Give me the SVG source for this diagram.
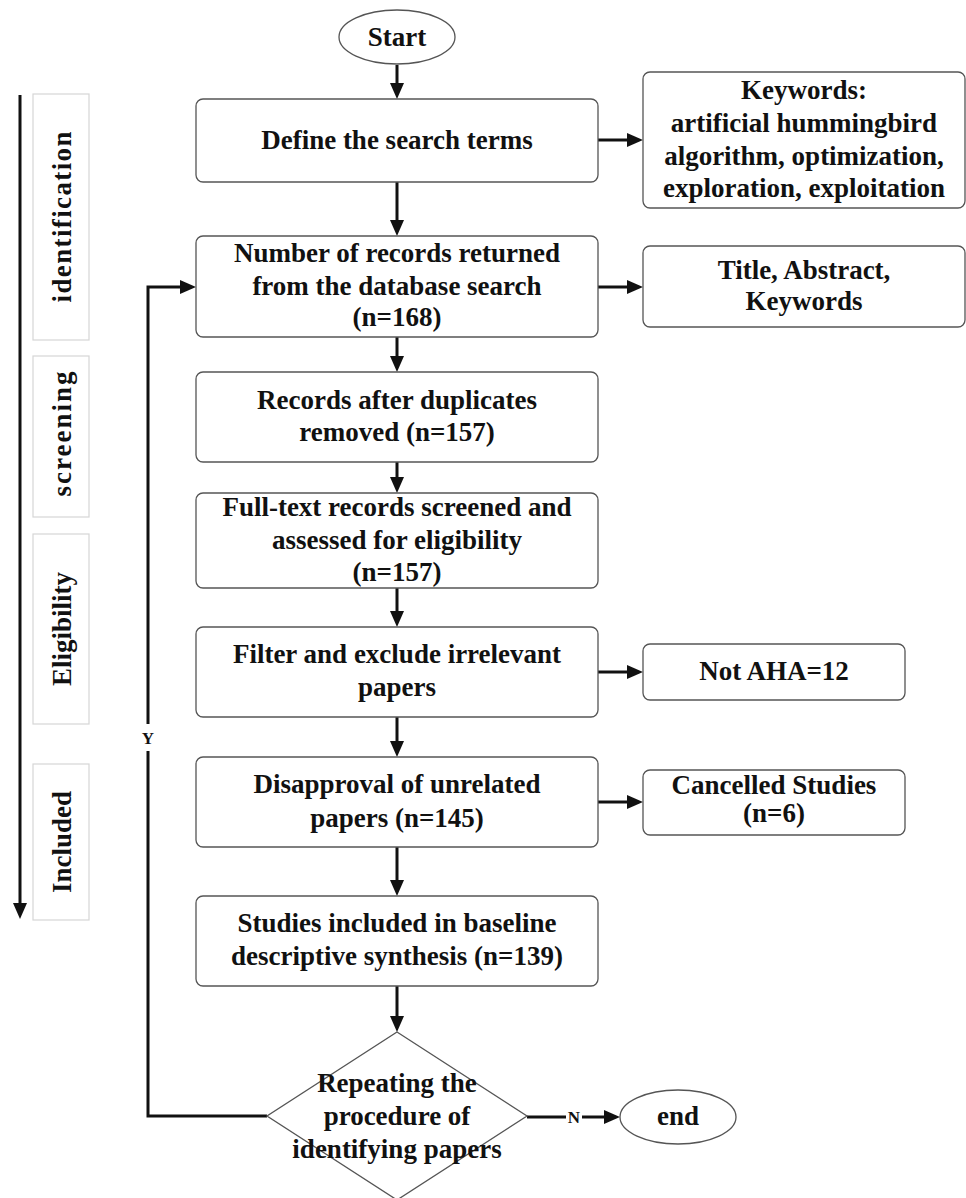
<svg xmlns="http://www.w3.org/2000/svg" width="966" height="1198" viewBox="0 0 966 1198">
<defs>
<style>
.box{fill:#fff;stroke:#555;stroke-width:1.3}
.stage{fill:#fff;stroke:#d6d6d6;stroke-width:1.2}
.t{font-family:"Liberation Serif","Times New Roman",serif;font-weight:bold;font-size:27px;fill:#111;text-anchor:middle}
.s{font-family:"Liberation Serif","Times New Roman",serif;font-weight:bold;font-size:17px;fill:#111;text-anchor:middle}
.c{fill:none;stroke:#111;stroke-width:3}
</style>
<marker id="ah" viewBox="0 0 16 14" refX="0" refY="7" markerWidth="16" markerHeight="14" markerUnits="userSpaceOnUse" orient="auto">
<path d="M0,0 L16,7 L0,14 z" fill="#111"/>
</marker>
</defs>
<rect width="966" height="1198" fill="#fff"/>

<g id="stages">
<rect class="stage" x="33" y="94" width="56" height="246"/>
<text class="t" transform="translate(71,217) rotate(-90)" textLength="171" lengthAdjust="spacing">identification</text>
<rect class="stage" x="33" y="356" width="56" height="161"/>
<text class="t" transform="translate(71,434) rotate(-90)" textLength="125" lengthAdjust="spacing">screening</text>
<rect class="stage" x="33" y="534" width="56" height="190"/>
<text class="t" transform="translate(71,629) rotate(-90)">Eligibility</text>
<rect class="stage" x="33" y="764" width="56" height="156"/>
<text class="t" transform="translate(71,842) rotate(-90)">Included</text>
</g>

<g id="connectors">
<path class="c" d="M20,95 V903" marker-end="url(#ah)"/>
<path class="c" d="M397,65 V83" marker-end="url(#ah)"/>
<path class="c" d="M397,182 V220" marker-end="url(#ah)"/>
<path class="c" d="M397,337 V356" marker-end="url(#ah)"/>
<path class="c" d="M397,462 V477" marker-end="url(#ah)"/>
<path class="c" d="M397,588 V611" marker-end="url(#ah)"/>
<path class="c" d="M397,717 V741" marker-end="url(#ah)"/>
<path class="c" d="M397,847 V880" marker-end="url(#ah)"/>
<path class="c" d="M397,986 V1016" marker-end="url(#ah)"/>
<path class="c" d="M598,140 H627" marker-end="url(#ah)"/>
<path class="c" d="M598,287 H627" marker-end="url(#ah)"/>
<path class="c" d="M598,672 H627" marker-end="url(#ah)"/>
<path class="c" d="M598,802 H627" marker-end="url(#ah)"/>
<path class="c" d="M267,1116 H148 V751"/>
<path class="c" d="M148,724 V287 H180" marker-end="url(#ah)"/>
<text class="s" x="148" y="744">Y</text>
<path class="c" d="M527,1117 H566"/>
<path class="c" d="M582,1117 H604" marker-end="url(#ah)"/>
<text class="s" x="574" y="1123">N</text>
</g>

<g id="start">
<ellipse class="box" cx="397" cy="37" rx="58" ry="27"/>
<text class="t" x="397" y="46">Start</text>
</g>

<g id="define">
<rect class="box" x="196" y="99" width="402" height="83" rx="7"/>
<text class="t" x="397" y="149">Define the search terms</text>
</g>

<g id="keywords">
<rect class="box" x="643" y="72" width="322" height="136" rx="7"/>
<text class="t" x="804" y="99">Keywords:</text>
<text class="t" x="804" y="132">artificial hummingbird</text>
<text class="t" x="804" y="165">algorithm, optimization,</text>
<text class="t" x="804" y="197">exploration, exploitation</text>
</g>

<g id="records">
<rect class="box" x="196" y="236" width="402" height="101" rx="7"/>
<text class="t" x="397" y="262">Number of records returned</text>
<text class="t" x="397" y="295">from the database search</text>
<text class="t" x="397" y="326">(n=168)</text>
</g>

<g id="title">
<rect class="box" x="643" y="246" width="322" height="81" rx="7"/>
<text class="t" x="804" y="279">Title, Abstract,</text>
<text class="t" x="804" y="310">Keywords</text>
</g>

<g id="duplicates">
<rect class="box" x="196" y="372" width="402" height="90" rx="7"/>
<text class="t" x="397" y="409">Records after duplicates</text>
<text class="t" x="397" y="441">removed (n=157)</text>
</g>

<g id="fulltext">
<rect class="box" x="196" y="493" width="402" height="95" rx="7"/>
<text class="t" x="397" y="516">Full-text records screened and</text>
<text class="t" x="397" y="549">assessed for eligibility</text>
<text class="t" x="397" y="581">(n=157)</text>
</g>

<g id="filter">
<rect class="box" x="196" y="627" width="402" height="90" rx="7"/>
<text class="t" x="397" y="663">Filter and exclude irrelevant</text>
<text class="t" x="397" y="696">papers</text>
</g>

<g id="notaha">
<rect class="box" x="643" y="644" width="262" height="56" rx="7"/>
<text class="t" x="774" y="680">Not AHA=12</text>
</g>

<g id="disapproval">
<rect class="box" x="196" y="757" width="402" height="90" rx="7"/>
<text class="t" x="397" y="793">Disapproval of unrelated</text>
<text class="t" x="397" y="827">papers (n=145)</text>
</g>

<g id="cancelled">
<rect class="box" x="643" y="770" width="262" height="65" rx="7"/>
<text class="t" x="774" y="794">Cancelled Studies</text>
<text class="t" x="774" y="822">(n=6)</text>
</g>

<g id="included">
<rect class="box" x="196" y="896" width="402" height="90" rx="7"/>
<text class="t" x="397" y="932">Studies included in baseline</text>
<text class="t" x="397" y="965">descriptive synthesis (n=139)</text>
</g>

<g id="decision">
<path class="box" d="M397,1032 L527,1116 L397,1200 L267,1116 Z"/>
<text class="t" x="397" y="1092">Repeating the</text>
<text class="t" x="397" y="1125">procedure of</text>
<text class="t" x="397" y="1158">identifying papers</text>
</g>

<g id="end">
<ellipse class="box" cx="678" cy="1117" rx="58" ry="27"/>
<text class="t" x="678" y="1125">end</text>
</g>
</svg>
